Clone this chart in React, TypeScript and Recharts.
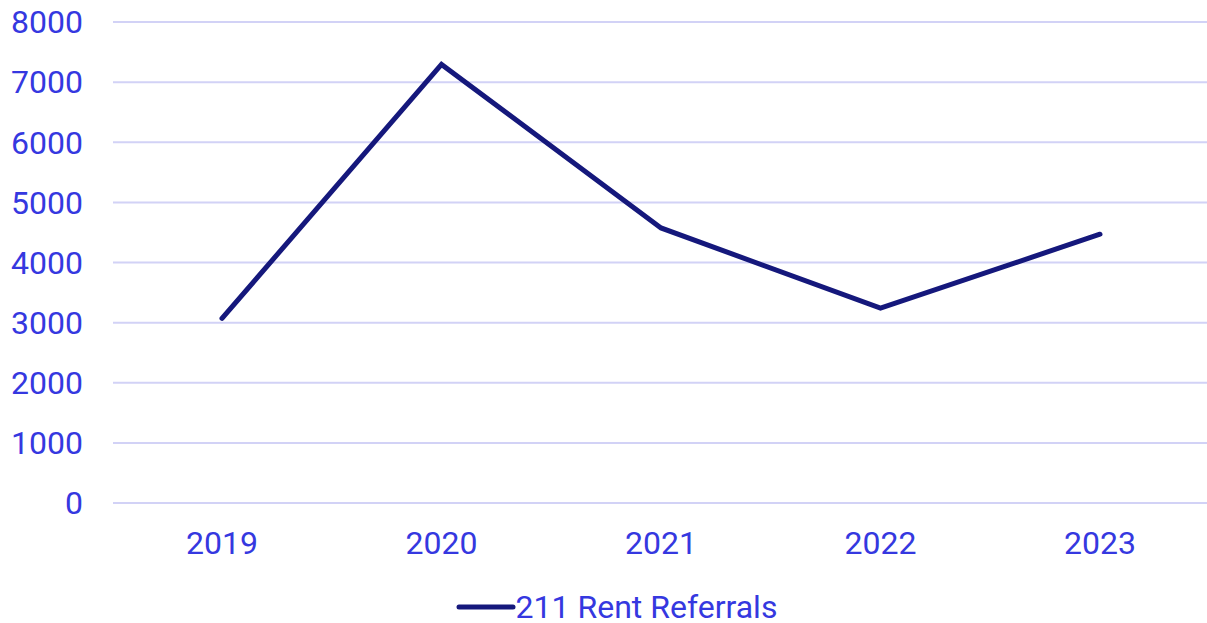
import React from "react";
import { LineChart, Line, XAxis, YAxis, CartesianGrid, Legend } from "recharts";

const years = ["2019", "2020", "2021", "2022", "2023"];
const referrals = [3070, 7295, 4575, 3240, 4470];
const yTicks = [0, 1000, 2000, 3000, 4000, 5000, 6000, 7000, 8000];
const seriesName = "211 Rent Referrals";

const data = years.map((y, i) => ({ year: y, value: referrals[i] }));

const TEXT = "#3538e0";
const LINE = "#15187c";
const GRID = "#d2d2f6";
const FONT = "Roboto, 'Noto Sans', sans-serif";

const LegendContent = () => (
  <div
    style={{
      height: 50,
      paddingTop: 18,
      paddingLeft: 24,
      boxSizing: "border-box",
      display: "flex",
      justifyContent: "center",
      alignItems: "center",
      fontFamily: FONT,
      fontSize: 32,
      color: TEXT,
    }}
  >
    <svg width={60} height={10} style={{ marginRight: 0 }}>
      <line x1={3} y1={5} x2={57} y2={5} stroke={LINE} strokeWidth={5} strokeLinecap="round" />
    </svg>
    <span style={{ lineHeight: 1 }}>{seriesName}</span>
  </div>
);

export default function App() {
  return (
    <div style={{ position: "absolute", left: 0, top: 0, width: 1207, height: 623, overflow: "hidden", background: "#fff" }}>
      <LineChart width={1209} height={623} data={data} margin={{ top: 22, right: 0, bottom: 0, left: 0 }}>
        <CartesianGrid vertical={false} stroke={GRID} strokeWidth={2} />
        <XAxis
          dataKey="year"
          axisLine={false}
          tickLine={false}
          height={70}
          tickMargin={22}
          padding={{ left: 109, right: 109 }}
          tick={{ fill: TEXT, fontSize: 32, fontFamily: FONT }}
        />
        <YAxis
          domain={[0, 8000]}
          ticks={yTicks}
          width={113}
          axisLine={false}
          tickLine={false}
          tickMargin={24}
          tick={{ fill: TEXT, fontSize: 32, fontFamily: FONT }}
        />
        <Legend verticalAlign="bottom" height={50} content={<LegendContent />} />
        <Line
          type="linear"
          dataKey="value"
          name={seriesName}
          stroke={LINE}
          strokeWidth={5}
          strokeLinecap="round"
          strokeLinejoin="miter"
          dot={false}
          activeDot={false}
          isAnimationActive={false}
        />
      </LineChart>
    </div>
  );
}
